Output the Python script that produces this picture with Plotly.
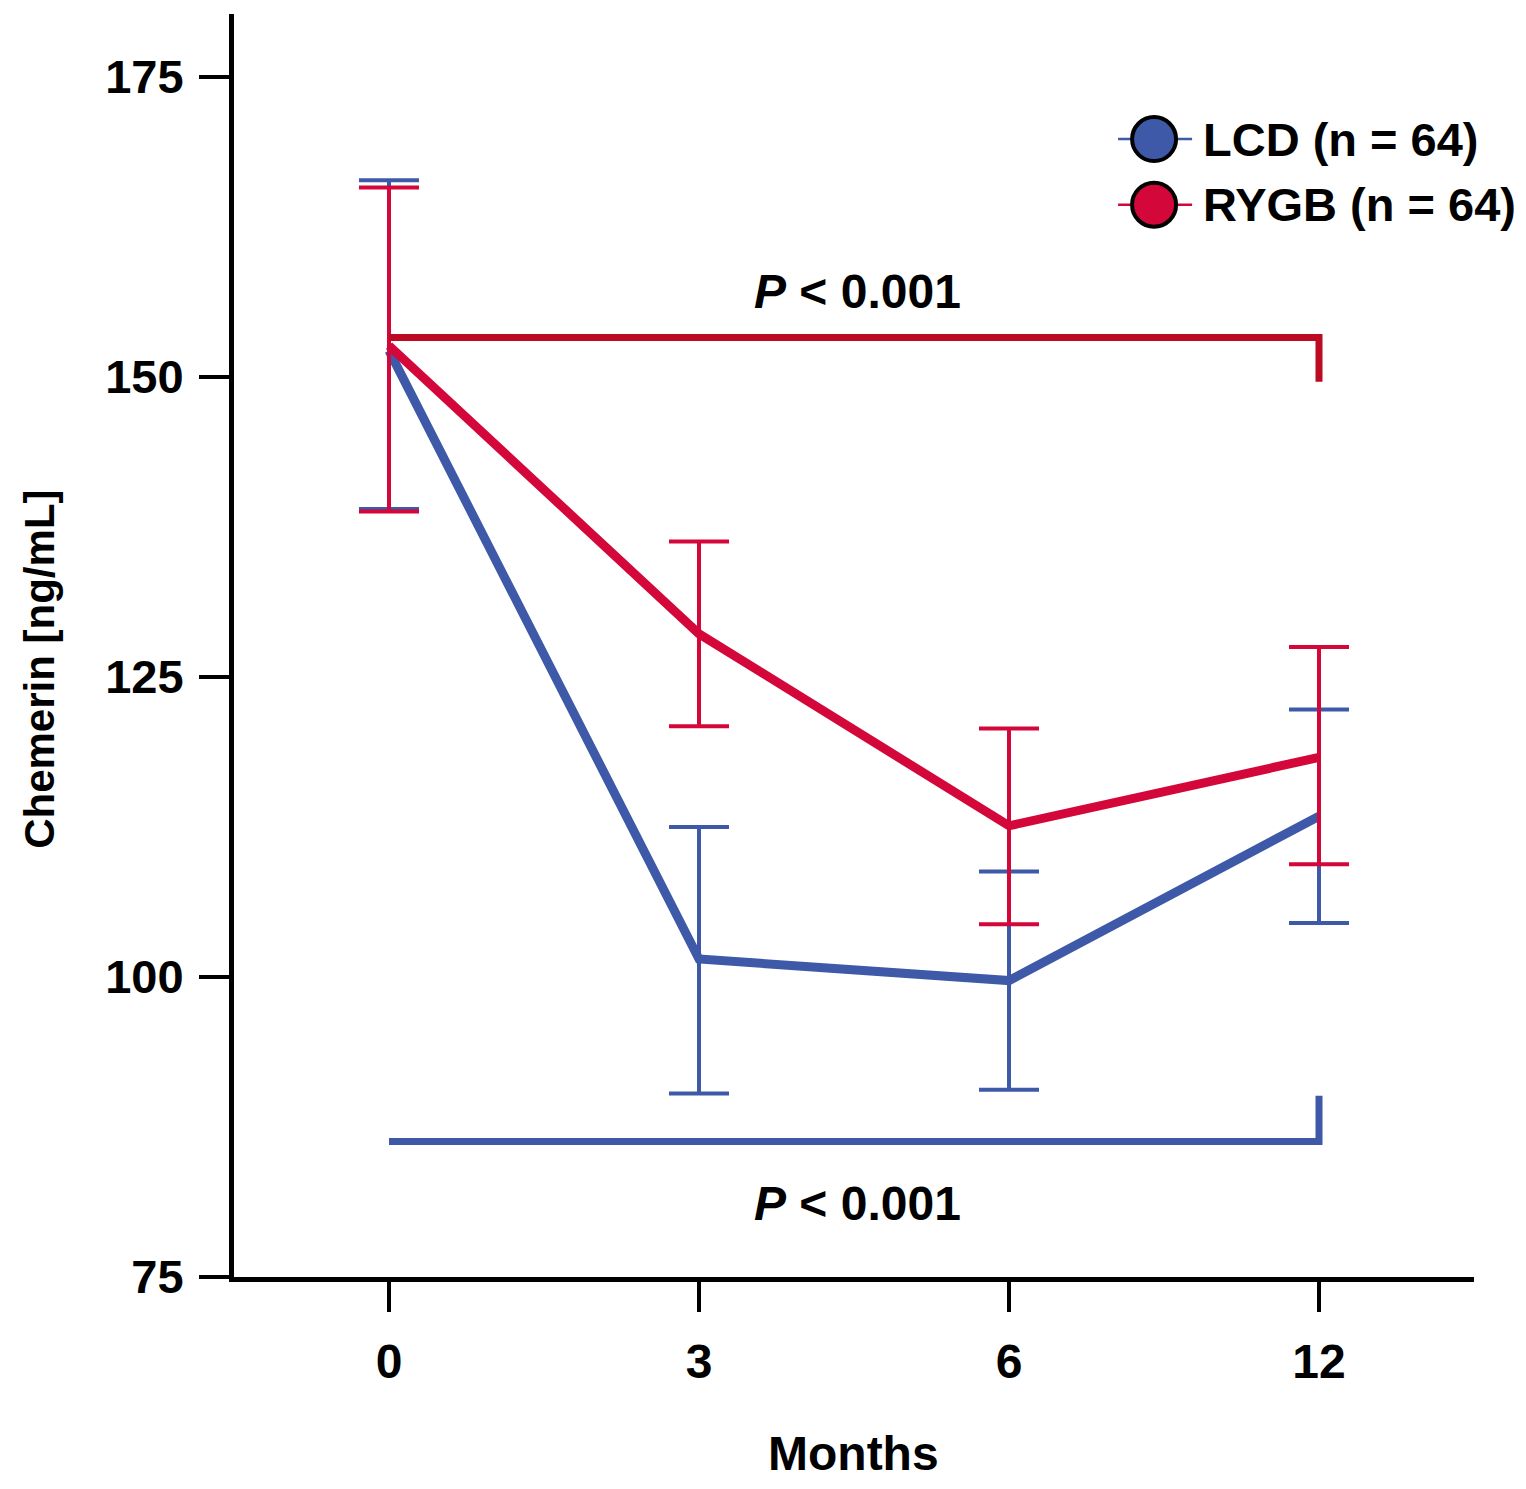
import plotly.graph_objects as go

# Chemerin over time, mean with asymmetric error bars
months = ["0", "3", "6", "12"]

lcd_mean = [152.2, 101.5, 99.7, 113.4]
lcd_upper = [166.4, 112.5, 108.8, 122.3]
lcd_lower = [139.0, 90.3, 90.6, 104.5]

rygb_mean = [152.6, 128.6, 112.6, 118.3]
rygb_upper = [165.8, 136.3, 120.7, 127.5]
rygb_lower = [138.8, 120.9, 104.4, 109.4]

# significance brackets (0 vs 12 months)
bracket_x = ["0", "12", "12"]
rygb_bracket_y = [153.3, 153.3, 149.6]
lcd_bracket_y = [86.3, 86.3, 90.1]

BLUE = "#3D59A8"
RED = "#D3073A"
FONT = "Liberation Sans, Arial, sans-serif"

fig = go.Figure()

for mean, up, lo, color in [(lcd_mean, lcd_upper, lcd_lower, BLUE),
                            (rygb_mean, rygb_upper, rygb_lower, RED)]:
    fig.add_trace(go.Scatter(
        x=months, y=mean, mode="lines",
        line=dict(color=color, width=9),
        error_y=dict(type="data", symmetric=False,
                     array=[u - m for u, m in zip(up, mean)],
                     arrayminus=[m - l for m, l in zip(mean, lo)],
                     color=color, thickness=4, width=30),
        showlegend=False))

fig.add_trace(go.Scatter(x=bracket_x, y=rygb_bracket_y, mode="lines",
                         line=dict(color="#BC0A22", width=7), showlegend=False))
fig.add_trace(go.Scatter(x=bracket_x, y=lcd_bracket_y, mode="lines",
                         line=dict(color=BLUE, width=7), showlegend=False))

# p-value labels
fig.add_annotation(x=1.51, y=157.1, text="<b><i>P</i> < 0.001</b>", showarrow=False,
                   font=dict(size=48, color="black"))
fig.add_annotation(x=1.51, y=81.1, text="<b><i>P</i> < 0.001</b>", showarrow=False,
                   font=dict(size=48, color="black"))

# axis titles
fig.add_annotation(xref="paper", yref="paper", x=0.4995, y=-0.140, text="<b>Months</b>",
                   xanchor="center", yanchor="middle", showarrow=False,
                   font=dict(size=48, color="black"))
fig.add_annotation(xref="paper", yref="paper", x=-0.157, y=0.481, text="<b>Chemerin [ng/mL]</b>",
                   xanchor="center", yanchor="middle", textangle=-90, showarrow=False,
                   font=dict(size=42, color="black"))

# hand-drawn legend (large markers)
legend_items = [("LCD (n = 64)", BLUE, 0.901), ("RYGB (n = 64)", RED, 0.849)]
for label, color, ly in legend_items:
    fig.add_shape(type="line", xref="paper", yref="paper", xsizemode="pixel", ysizemode="pixel",
                  xanchor=0.742, yanchor=ly, x0=-36, x1=38, y0=0, y1=0,
                  line=dict(color=color, width=2.5))
    fig.add_shape(type="circle", xref="paper", yref="paper", xsizemode="pixel", ysizemode="pixel",
                  xanchor=0.742, yanchor=ly, x0=-22, x1=22, y0=-22, y1=22,
                  fillcolor=color, line=dict(color="black", width=4))
    fig.add_annotation(xref="paper", yref="paper", x=0.78, y=ly, text="<b>" + label + "</b>",
                       xanchor="left", yanchor="middle", showarrow=False,
                       font=dict(size=47, color="black"))

fig.update_xaxes(type="category", range=[-0.5, 3.5], showline=True, linewidth=5,
                 linecolor="black", ticks="outside", ticklen=30, tickwidth=4,
                 tickcolor="black", ticklabelstandoff=8, showgrid=False, zeroline=False,
                 tickfont=dict(size=48, color="black", weight="bold"))
fig.update_yaxes(range=[75, 180.25], tickvals=[75, 100, 125, 150, 175], showline=True,
                 linewidth=5, linecolor="black", ticks="outside", ticklen=30, tickwidth=4,
                 tickcolor="black", ticklabelstandoff=6, showgrid=False, zeroline=False,
                 tickfont=dict(size=47, color="black", weight="bold"))

fig.update_layout(width=1526, height=1489, margin=dict(l=226, r=60, t=6, b=220),
                  plot_bgcolor="white", paper_bgcolor="white",
                  font=dict(family=FONT, color="black"), showlegend=False)

fig.write_html("out.html")
